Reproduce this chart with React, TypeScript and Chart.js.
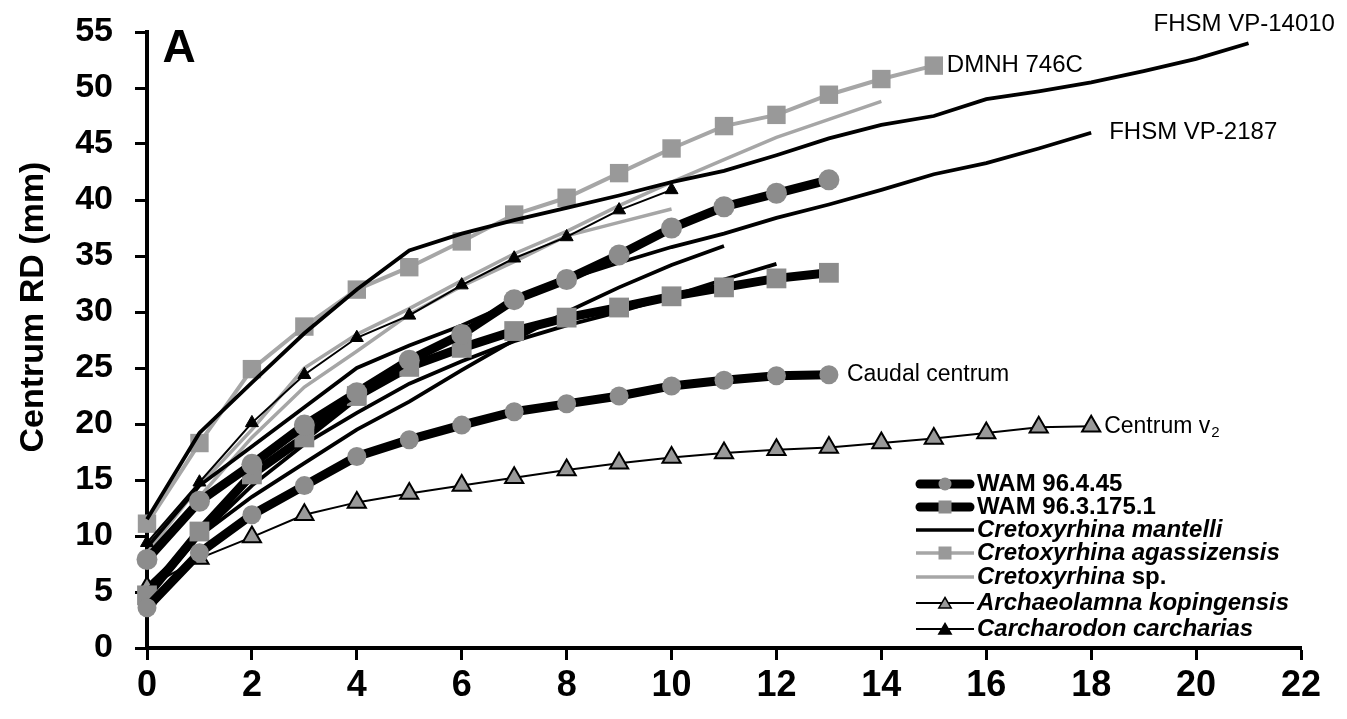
import React, { useEffect, useRef } from 'react';
import { Chart, registerables } from 'chart.js';

Chart.register(...registerables);

// Age (years) is the array index for every series
const wam96445 = [7.9, 13.1, 16.4, 19.9, 22.8, 25.7, 28.0, 31.1, 32.9, 35.1, 37.5, 39.4, 40.6, 41.8];
const wam96445Caudal = [3.6, 8.5, 11.9, 14.5, 17.1, 18.6, 19.9, 21.1, 21.8, 22.5, 23.4, 23.9, 24.3, 24.4];
const wam963175 = [4.7, 10.4, 15.5, 18.8, 22.5, 25.1, 26.8, 28.3, 29.5, 30.4, 31.4, 32.2, 33.0, 33.5];
const mantelliVP14010 = [11.5, 19.2, 23.7, 28.1, 32.0, 35.5, 37.0, 38.2, 39.3, 40.4, 41.6, 42.6, 44.0, 45.5, 46.7, 47.5, 49.0, 49.7, 50.5, 51.5, 52.6, 54.0];
const mantelliVP2187 = [9.0, 14.5, 18.0, 21.5, 25.0, 27.0, 28.8, 30.9, 32.9, 34.4, 35.8, 37.0, 38.4, 39.6, 40.9, 42.3, 43.3, 44.6, 46.0];
const mantelliC = [5.5, 10.0, 13.5, 16.5, 19.5, 22.0, 24.8, 27.5, 30.0, 32.2, 34.2, 35.9];
const mantelliD = [4.5, 10.0, 14.5, 18.2, 21.0, 23.6, 25.6, 27.4, 28.8, 30.0, 31.4, 32.9, 34.3];
const agassizensis = [11.1, 18.3, 24.9, 28.7, 32.0, 34.0, 36.3, 38.7, 40.2, 42.4, 44.6, 46.6, 47.6, 49.4, 50.8, 52.0];
const crSpLong = [8.5, 14.5, 19.5, 25.0, 28.0, 30.3, 32.8, 35.2, 37.2, 39.5, 41.6, 43.6, 45.6, 47.2, 48.8];
const crSpShort = [7.5, 13.5, 18.8, 23.3, 26.5, 29.8, 32.3, 34.5, 36.8, 38.0, 39.2];
const kopingensis = [5.4, 8.0, 9.9, 11.9, 13.0, 13.8, 14.5, 15.2, 15.9, 16.5, 17.0, 17.4, 17.7, 17.9, 18.3, 18.7, 19.2, 19.7, 19.8];
const carcharias = [9.4, 14.8, 20.1, 24.4, 27.7, 29.7, 32.4, 34.8, 36.7, 39.1, 40.9];

const xTickMin = 0;
const xTickMax = 22;
const xTickStep = 2;
const yTickMin = 0;
const yTickMax = 55;
const yTickStep = 5;
const yTitle = 'Centrum RD (mm)';

const FONT = "'Liberation Sans', Arial, sans-serif";
const NARROW = "'Liberation Sans Narrow', 'Arial Narrow', 'Liberation Sans', Arial, sans-serif";

const toPts = (arr: number[]) => arr.map((v, i) => ({ x: i, y: v }));

const GRAY_MARK = '#8c8c8c';
const LIGHT_GRAY = '#a6a6a6';

const thickCircle = (data: number[], r: number) => ({
  data: toPts(data),
  borderColor: '#000',
  borderWidth: 9,
  pointStyle: 'circle',
  pointRadius: r,
  pointBackgroundColor: GRAY_MARK,
  pointBorderColor: GRAY_MARK,
  pointBorderWidth: 0,
});

const thinBlack = (data: number[]) => ({
  data: toPts(data),
  borderColor: '#000',
  borderWidth: 3.8,
  pointRadius: 0,
});

const graySp = (data: number[]) => ({
  data: toPts(data),
  borderColor: LIGHT_GRAY,
  borderWidth: 3.5,
  pointRadius: 0,
});

const legendItems = [
  { parts: [{ t: 'WAM 96.4.45', i: false }], line: '#000', lw: 9, mk: 'circle', mc: GRAY_MARK, mb: GRAY_MARK },
  { parts: [{ t: 'WAM 96.3.175.1', i: false }], line: '#000', lw: 9, mk: 'rect', mc: GRAY_MARK, mb: GRAY_MARK },
  { parts: [{ t: 'Cretoxyrhina mantelli', i: true }], line: '#000', lw: 3.5, mk: '', mc: '', mb: '' },
  { parts: [{ t: 'Cretoxyrhina agassizensis', i: true }], line: LIGHT_GRAY, lw: 3.5, mk: 'rect', mc: '#999', mb: '#999' },
  { parts: [{ t: 'Cretoxyrhina', i: true }, { t: ' sp.', i: false }], line: LIGHT_GRAY, lw: 3.5, mk: '', mc: '', mb: '' },
  { parts: [{ t: 'Archaeolamna kopingensis', i: true }], line: '#000', lw: 2, mk: 'triangle', mc: '#999', mb: '#000' },
  { parts: [{ t: 'Carcharodon carcharias', i: true }], line: '#000', lw: 2, mk: 'triangle', mc: '#000', mb: '#000' },
];
const legendRowsY = [484, 507, 530, 553, 577, 603, 629];

const drawMarker = (ctx: CanvasRenderingContext2D, kind: string, x: number, y: number, s: number, fill: string, stroke: string) => {
  ctx.save();
  ctx.fillStyle = fill;
  ctx.strokeStyle = stroke;
  ctx.lineWidth = 1.5;
  ctx.beginPath();
  if (kind === 'circle') {
    ctx.arc(x, y, s, 0, Math.PI * 2);
    ctx.fill();
  } else if (kind === 'rect') {
    ctx.rect(x - s, y - s, 2 * s, 2 * s);
    ctx.fill();
  } else if (kind === 'triangle') {
    ctx.moveTo(x, y - s);
    ctx.lineTo(x + s * 0.95, y + s * 0.6);
    ctx.lineTo(x - s * 0.95, y + s * 0.6);
    ctx.closePath();
    ctx.fill();
    ctx.stroke();
  }
  ctx.restore();
};

const annotationPlugin = {
  id: 'annotations',
  afterDraw(chart: any) {
    const ctx: CanvasRenderingContext2D = chart.ctx;
    const xs = chart.scales.x;
    const ys = chart.scales.y;
    ctx.save();
    ctx.fillStyle = '#000';
    ctx.textBaseline = 'middle';
    ctx.textAlign = 'left';
    ctx.font = `24px ${FONT}`;
    const lab = (text: string, x: number, y: number, dx: number, dy: number) => {
      ctx.fillText(text, xs.getPixelForValue(x) + dx, ys.getPixelForValue(y) + dy);
    };
    lab('FHSM VP-14010', 21, mantelliVP14010[21], -95, -19);
    lab('DMNH 746C', 15, agassizensis[15], 13, 0);
    lab('FHSM VP-2187', 18, mantelliVP2187[18], 18, 0);
    ctx.font = `23px ${FONT}`;
    lab('Caudal centrum', 13, wam96445Caudal[13], 18, 0);
    // Centrum v2 with subscript
    const cx = xs.getPixelForValue(18) + 13;
    const cy = ys.getPixelForValue(kopingensis[18]);
    ctx.fillText('Centrum v', cx, cy);
    const w = ctx.measureText('Centrum v').width;
    ctx.font = `15px ${FONT}`;
    ctx.fillText('2', cx + w + 1, cy + 7);
    // panel letter
    ctx.font = `bold 46px ${FONT}`;
    ctx.textAlign = 'center';
    ctx.fillText('A', 179, 49);

    // y-axis title
    ctx.save();
    ctx.translate(34, 307);
    ctx.rotate(-Math.PI / 2);
    ctx.font = `bold 34px ${FONT}`;
    ctx.textAlign = 'center';
    ctx.fillText(yTitle, 0, 0);
    ctx.restore();

    // legend
    ctx.textAlign = 'left';
    legendItems.forEach((it, i) => {
      const y = legendRowsY[i];
      ctx.save();
      ctx.strokeStyle = it.line;
      ctx.lineWidth = it.lw;
      ctx.lineCap = it.lw > 5 ? 'round' : 'butt';
      ctx.beginPath();
      ctx.moveTo(it.lw > 5 ? 920 : 916, y);
      ctx.lineTo(it.lw > 5 ? 970 : 974, y);
      ctx.stroke();
      ctx.restore();
      if (it.mk) {
        const s = 6.5;
        drawMarker(ctx, it.mk, 945, y + (it.mk === 'triangle' ? 1 : 0), s, it.mc, it.mb);
      }
      let tx = 977;
      it.parts.forEach((p) => {
        ctx.font = `${p.i ? 'italic ' : ''}bold 24px ${FONT}`;
        ctx.fillText(p.t, tx, y);
        tx += ctx.measureText(p.t).width;
      });
    });
    ctx.restore();
  },
};

const zeroPad = (s: any) => {
  s.paddingTop = 0;
  s.paddingBottom = 0;
  s.paddingLeft = 0;
  s.paddingRight = 0;
};

export default function App() {
  const ref = useRef<HTMLCanvasElement | null>(null);
  useEffect(() => {
    if (!ref.current) return;
    const chart = new Chart(ref.current, {
      type: 'line',
      data: {
        datasets: [
          { label: 'WAM 96.4.45', ...thickCircle(wam96445, 10.5) },
          { label: 'WAM 96.4.45 caudal', ...thickCircle(wam96445Caudal, 9.5) },
          {
            label: 'WAM 96.3.175.1',
            data: toPts(wam963175),
            borderColor: '#000',
            borderWidth: 9,
            pointStyle: 'rect',
            pointRadius: 14,
            pointBackgroundColor: GRAY_MARK,
            pointBorderColor: GRAY_MARK,
            pointBorderWidth: 0,
          },
          {
            label: 'Carcharodon carcharias',
            data: toPts(carcharias),
            borderColor: '#000',
            borderWidth: 2,
            pointStyle: 'triangle',
            pointRadius: 7.5,
            pointBackgroundColor: '#000',
            pointBorderColor: '#000',
            pointBorderWidth: 1,
          },
          {
            label: 'Archaeolamna kopingensis',
            data: toPts(kopingensis),
            borderColor: '#000',
            borderWidth: 2,
            pointStyle: 'triangle',
            pointRadius: 10.5,
            pointBackgroundColor: '#999999',
            pointBorderColor: '#000',
            pointBorderWidth: 2,
          },
          { label: 'Cretoxyrhina mantelli VP-14010', ...thinBlack(mantelliVP14010) },
          { label: 'Cretoxyrhina mantelli VP-2187', ...thinBlack(mantelliVP2187) },
          { label: 'Cretoxyrhina mantelli C', ...thinBlack(mantelliC) },
          { label: 'Cretoxyrhina mantelli D', ...thinBlack(mantelliD) },
          { label: 'Cretoxyrhina sp. 1', ...graySp(crSpLong) },
          { label: 'Cretoxyrhina sp. 2', ...graySp(crSpShort) },
          {
            label: 'Cretoxyrhina agassizensis',
            data: toPts(agassizensis),
            borderColor: LIGHT_GRAY,
            borderWidth: 4,
            pointStyle: 'rect',
            pointRadius: 13,
            pointBackgroundColor: '#999999',
            pointBorderColor: '#999999',
            pointBorderWidth: 0,
          },
        ].map((d: any) => ({ ...d, fill: false, tension: 0, clip: false, pointHoverRadius: d.pointRadius })),
      },
      options: {
        animation: false,
        responsive: false,
        devicePixelRatio: 1,
        events: [],
        layout: { padding: { left: 0, right: 46, top: 32, bottom: 0 } },
        plugins: {
          legend: { display: false },
          tooltip: { enabled: false },
          title: { display: false },
        },
        scales: {
          x: {
            type: 'linear',
            min: xTickMin,
            max: xTickMax,
            afterFit: (s: any) => { s.height = 71; zeroPad(s); },
            ticks: {
              stepSize: xTickStep,
              color: '#000',
              padding: 4,
              font: { family: NARROW, weight: 'bold', size: 36 },
              maxRotation: 0,
            },
            grid: { drawOnChartArea: false, drawTicks: true, tickLength: 12, tickWidth: 3, tickColor: '#000' },
            border: { display: true, width: 4, color: '#000' },
          },
          y: {
            type: 'linear',
            min: yTickMin,
            max: yTickMax,
            afterFit: (s: any) => { s.width = 147; zeroPad(s); },
            ticks: {
              stepSize: yTickStep,
              color: '#000',
              padding: 22,
              font: { family: FONT, weight: 'bold', size: 34 },
            },
            grid: { drawOnChartArea: false, drawTicks: true, tickLength: 12, tickWidth: 3, tickColor: '#000' },
            border: { display: true, width: 4, color: '#000' },
            title: { display: false },
          },
        },
      },
      plugins: [annotationPlugin],
    } as any);
    return () => chart.destroy();
  }, []);
  return (
    <div style={{ position: 'absolute', left: 0, top: 0, width: 1347, height: 719, background: '#fff' }}>
      <canvas ref={ref} width={1347} height={719} style={{ display: 'block' }} />
    </div>
  );
}
